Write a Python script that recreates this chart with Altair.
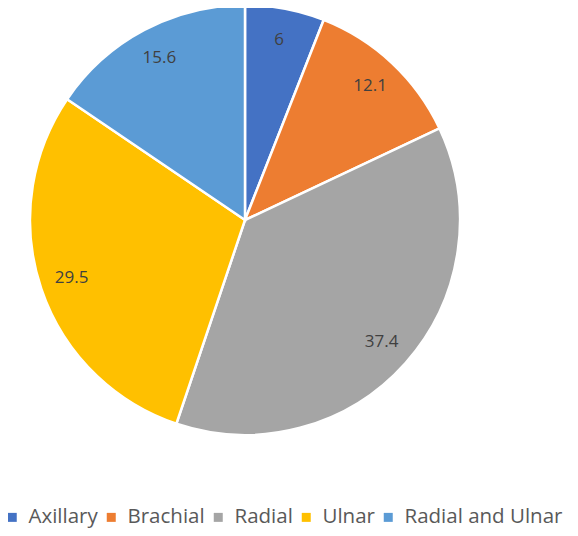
import altair as alt
import pandas as pd

categories = ["Axillary", "Brachial", "Radial", "Ulnar", "Radial and Ulnar"]
values = [6, 12.1, 37.4, 29.5, 15.6]
labels = ["6", "12.1", "37.4", "29.5", "15.6"]
colors = ["#4472C4", "#ED7D31", "#A5A5A5", "#FFC000", "#5B9BD5"]

df = pd.DataFrame({"cat": categories, "val": values, "lab": labels, "ord": list(range(len(categories)))})

base = alt.Chart(df).encode(
    theta=alt.Theta("val:Q", stack=True),
    order=alt.Order("ord:Q"),
    x=alt.value(237),
    y=alt.value(212),
)

arcs = base.mark_arc(outerRadius=215, stroke="white", strokeWidth=2.5).encode(
    color=alt.Color(
        "cat:N",
        scale=alt.Scale(domain=categories, range=colors),
        sort=categories,
        legend=alt.Legend(
            title=None,
            orient="none",
            legendX=-6,
            legendY=499,
            direction="horizontal",
            symbolType="square",
            symbolSize=81,
            symbolStrokeWidth=0,
            labelFont="Open Sans",
            labelFontSize=20.5,
            labelColor="#595959",
            columnPadding=3,
            symbolOffset=0,
            labelOffset=6,
            labelLimit=300,
        ),
    )
)

texts = base.mark_text(radius=183, font="Open Sans", fontSize=17, color="#404040").encode(
    text="lab:N"
)

chart = (arcs + texts).properties(
    width=562, height=520, autosize=alt.AutoSizeParams(type="none"), padding=0
).configure_view(stroke=None)

chart.save("out.html", embed_options={"renderer": "svg", "actions": False})
